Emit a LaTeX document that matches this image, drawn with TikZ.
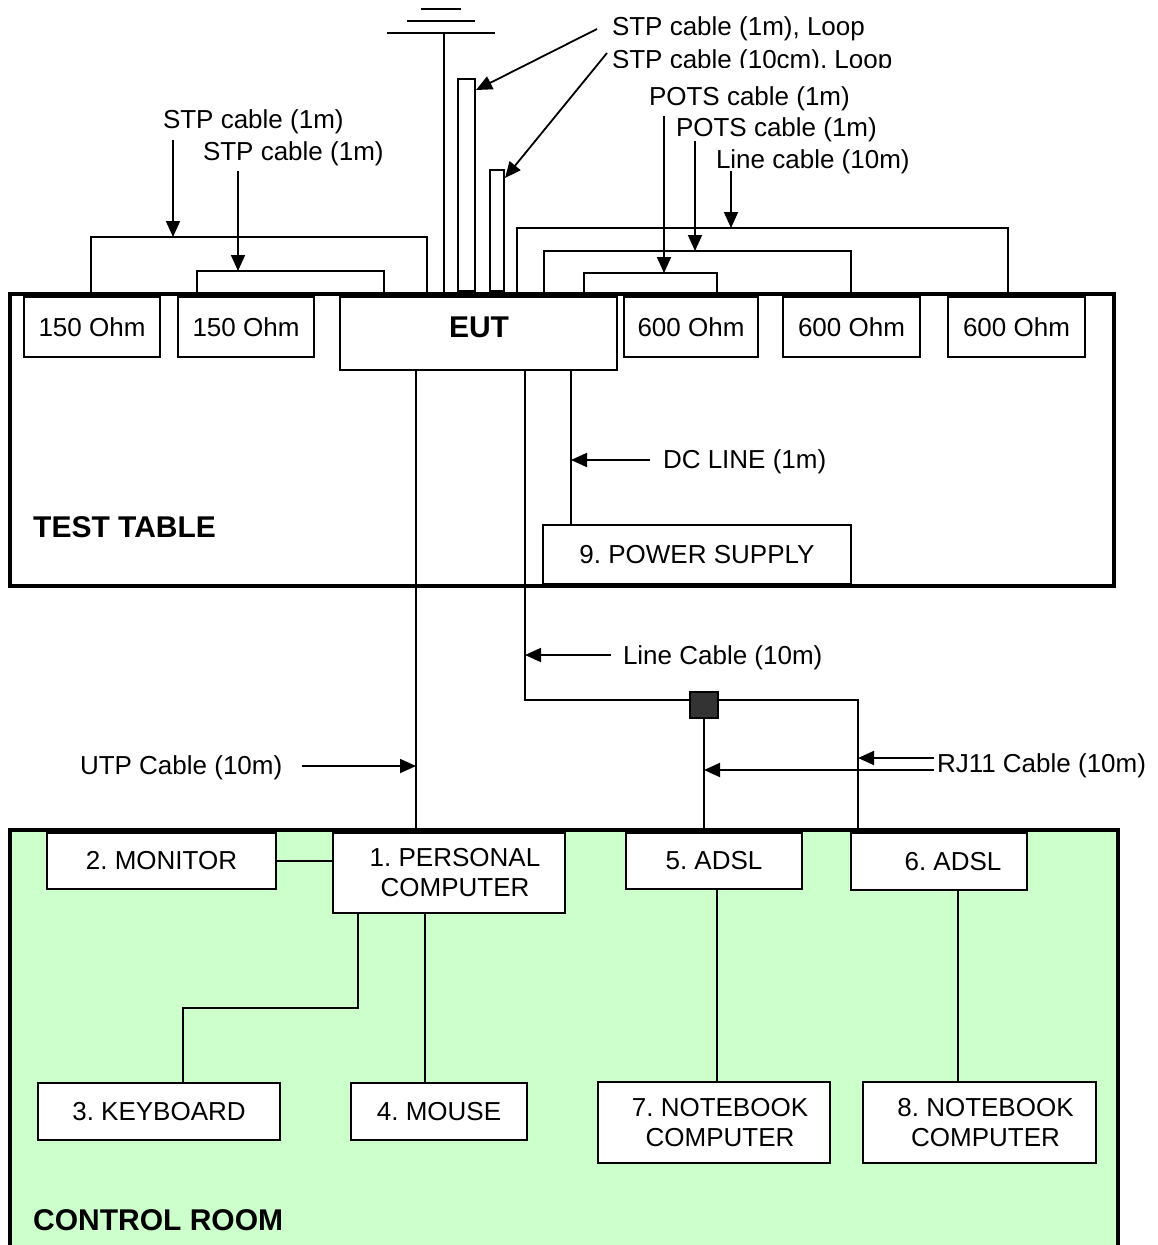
\documentclass[tikz,border=0pt]{standalone}
\usepackage{fontspec}
\setmainfont{Liberation Sans}
\usetikzlibrary{arrows.meta,calc}
\definecolor{roomgreen}{RGB}{204,255,204}
\definecolor{junctiongray}{RGB}{51,51,51}
\frenchspacing
\begin{document}
\begin{tikzpicture}[x=1pt,y=-1pt,
  txt/.style={font=\fontsize{26}{30}\selectfont},
  boldtxt/.style={font=\fontsize{30}{34}\selectfont\bfseries, inner sep=0pt, anchor=west},
  box/.style={draw, line width=2pt, fill=white, inner sep=0pt, outer sep=0pt, align=center, txt},
  loopbox/.style={draw, line width=2pt, fill=white, inner sep=0pt, outer sep=0pt},
  cable/.style={line width=1.8pt},
  arr/.style={line width=1.8pt, -{Triangle[length=16pt,width=14pt]}},
  lbl/.style={inner sep=0pt, outer sep=0pt, anchor=west, txt},
  area/.style={draw, line width=4.5pt, outer sep=0pt, inner sep=0pt}]

\useasboundingbox (0,0) rectangle (1158,1245);
\clip (0,0) rectangle (1158,1245);
\fill[white] (0,0) rectangle (1158,1245);

% ---------- areas ----------
\node[area, fill=roomgreen, minimum width=1108, minimum height=440, anchor=north west] (room) at (10,830) {};
\node[area, minimum width=1104, minimum height=292, anchor=north west] (table) at (10,294) {};

% ---------- test table equipment ----------
\node[box, minimum width=136, minimum height=60] (r1) at (92,327) {150 Ohm};
\node[box, minimum width=136, minimum height=60] (r2) at (246,327) {150 Ohm};
\node[box, minimum width=277, minimum height=73] (eut) at (478.5,333.5) {};
\node[boldtxt, anchor=center] (euttxt) at (479,327) {EUT};
\node[box, minimum width=134, minimum height=60] (r3) at (691,327) {600 Ohm};
\node[box, minimum width=137, minimum height=60] (r4) at (851.5,327) {600 Ohm};
\node[box, minimum width=137, minimum height=60] (r5) at (1016.5,327) {600 Ohm};
\node[box, minimum width=308, minimum height=59] (ps) at (697,554.5) {9. POWER SUPPLY};
\node[boldtxt] (tabletxt) at (33,527) {TEST TABLE};

% ---------- control room equipment ----------
\node[box, minimum width=229, minimum height=56] (mon) at (161.5,861) {2. MONITOR};
\node[box, minimum width=232, minimum height=80] (pc) at (449,873) {\hspace*{12pt}1. PERSONAL\\\hspace*{12pt}COMPUTER};
\node[box, minimum width=242, minimum height=57] (kb) at (159,1111.5) {3. KEYBOARD};
\node[box, minimum width=176, minimum height=57] (mouse) at (439,1111.5) {4. MOUSE};
\node[box, minimum width=176, minimum height=56] (adsl5) at (714,861) {5. ADSL};
\node[box, minimum width=176, minimum height=57] (adsl6) at (939,861.5) {\hspace*{28pt}6. ADSL};
\node[box, minimum width=232, minimum height=81] (nb7) at (714,1122.5) {\hspace*{12pt}7. NOTEBOOK\\\hspace*{12pt}COMPUTER};
\node[box, minimum width=233, minimum height=81] (nb8) at (979.5,1122.5) {\hspace*{12pt}8. NOTEBOOK\\\hspace*{12pt}COMPUTER};
\node[boldtxt] (roomtxt) at (33,1220) {CONTROL ROOM};

% ---------- cables above the EUT ----------
\coordinate (cA1) at (91,237);  \coordinate (cA2) at (427,237);
\draw[cable] (r1.north -| cA1) -- (cA1) -- (cA2) -- (cA2 |- eut.north);
\coordinate (cB1) at (197,271); \coordinate (cB2) at (384,271);
\draw[cable] (r2.north -| cB1) -- (cB1) -- (cB2) -- (cB2 |- eut.north);

% ground
\coordinate (gnd) at (444,33);
\draw[cable] (eut.north -| gnd) -- (gnd);
\coordinate (plate1) at (441,33);
\coordinate (plate2) at (441,21);
\coordinate (plate3) at (441,9);
\draw[cable] ($(plate1)+(-54,0)$) -- ($(plate1)+(54,0)$);
\draw[cable] ($(plate2)+(-34,0)$) -- ($(plate2)+(34,0)$);
\draw[cable] ($(plate3)+(-20,0)$) -- ($(plate3)+(20,0)$);

% loops
\node[loopbox, minimum width=17, minimum height=212] (loop1) at (466.5,185) {};
\node[loopbox, minimum width=14, minimum height=121] (loop2) at (497,230.5) {};

% cables to the 600 Ohm terminations
\coordinate (cL1) at (517,228); \coordinate (cL2) at (1008,228);
\draw[cable] (eut.north -| cL1) -- (cL1) -- (cL2) -- (cL2 |- r5.north);
\coordinate (cP2a) at (544,251); \coordinate (cP2b) at (851,251);
\draw[cable] (eut.north -| cP2a) -- (cP2a) -- (cP2b) -- (cP2b |- r4.north);
\coordinate (cP1a) at (584,273); \coordinate (cP1b) at (717,273);
\draw[cable] (eut.north -| cP1a) -- (cP1a) -- (cP1b) -- (cP1b |- r3.north);

% ---------- labels and pointers above ----------
\node[lbl] (lA) at (163,122) {STP cable (1m)};
\node[lbl] (lB) at (203,154) {STP cable (1m)};
\coordinate (tA) at (173,140);
\draw[arr] (tA) -- (tA |- cA1);
\coordinate (tB) at (238,171);
\draw[arr] (tB) -- (tB |- cB1);

\node[lbl] (lL1) at (612,29) {STP cable (1m), Loop};
\begin{scope}
  \clip (560,40) rectangle (950,67);
  \node[lbl] (lL2) at (612,62) {STP cable (10cm), Loop};
\end{scope}
\coordinate (tL1) at (597,29);
\draw[arr] (tL1) -- ($(loop1.north east)+(1,11)$);
\coordinate (tL2) at (607,53);
\draw[arr] (tL2) -- ($(loop2.north east)+(1,8)$);

\node[lbl] (lP1) at (649,99) {POTS cable (1m)};
\node[lbl] (lP2) at (676,130) {POTS cable (1m)};
\node[lbl] (lLC) at (716,162) {Line cable (10m)};
\coordinate (tP1) at (664,116);
\draw[arr] (tP1) -- (tP1 |- cP1a);
\coordinate (tP2) at (695,141);
\draw[arr] (tP2) -- (tP2 |- cP2a);
\coordinate (tLC) at (731,171);
\draw[arr] (tLC) -- (tLC |- cL1);

% ---------- cables below the EUT ----------
\coordinate (xU) at (416,0);
\draw[cable] (eut.south -| xU) -- (pc.north -| xU);
\coordinate (xD) at (571,0);
\draw[cable] (eut.south -| xD) -- (ps.north -| xD);
\coordinate (xL) at (525,700); \coordinate (xR) at (858,700);
\draw[cable] (eut.south -| xL) -- (xL) -- (xR) -- (xR |- adsl6.north);
\node[draw, line width=1.5pt, fill=junctiongray, minimum width=28, minimum height=26, inner sep=0pt, outer sep=0pt] (jn) at (704,705) {};
\draw[cable] (jn.south) -- (jn.south |- adsl5.north);

\node[lbl] (lDC) at (663,462) {DC LINE (1m)};
\coordinate (tD) at (650,460);
\draw[arr] (tD) -- (tD -| xD);

\node[lbl] (lLine) at (623,658) {Line Cable (10m)};
\coordinate (tLine) at (611,655);
\draw[arr] (tLine) -- (tLine -| xL);

\node[lbl] (lUTP) at (80,768) {UTP Cable (10m)};
\coordinate (tU) at (302,766);
\draw[arr] (tU) -- (tU -| xU);

\node[lbl] (lRJ) at (937,766) {RJ11 Cable (10m)};
\coordinate (tR1) at (934,758);
\draw[arr] (tR1) -- (tR1 -| xR);
\coordinate (tR2) at (934,770);
\draw[arr] (tR2) -- (tR2 -| jn);

% ---------- control room links ----------
\draw[cable] (mon.east) -- (mon.east -| pc.west);
\coordinate (k1) at (358,1008); \coordinate (k2) at (183,1008);
\draw[cable] (pc.south -| k1) -- (k1) -- (k2) -- (k2 |- kb.north);
\coordinate (xM) at (425,0);
\draw[cable] (pc.south -| xM) -- (mouse.north -| xM);
\coordinate (xN7) at (717,0);
\draw[cable] (adsl5.south -| xN7) -- (nb7.north -| xN7);
\coordinate (xN8) at (958,0);
\draw[cable] (adsl6.south -| xN8) -- (nb8.north -| xN8);
\end{tikzpicture}
\end{document}
